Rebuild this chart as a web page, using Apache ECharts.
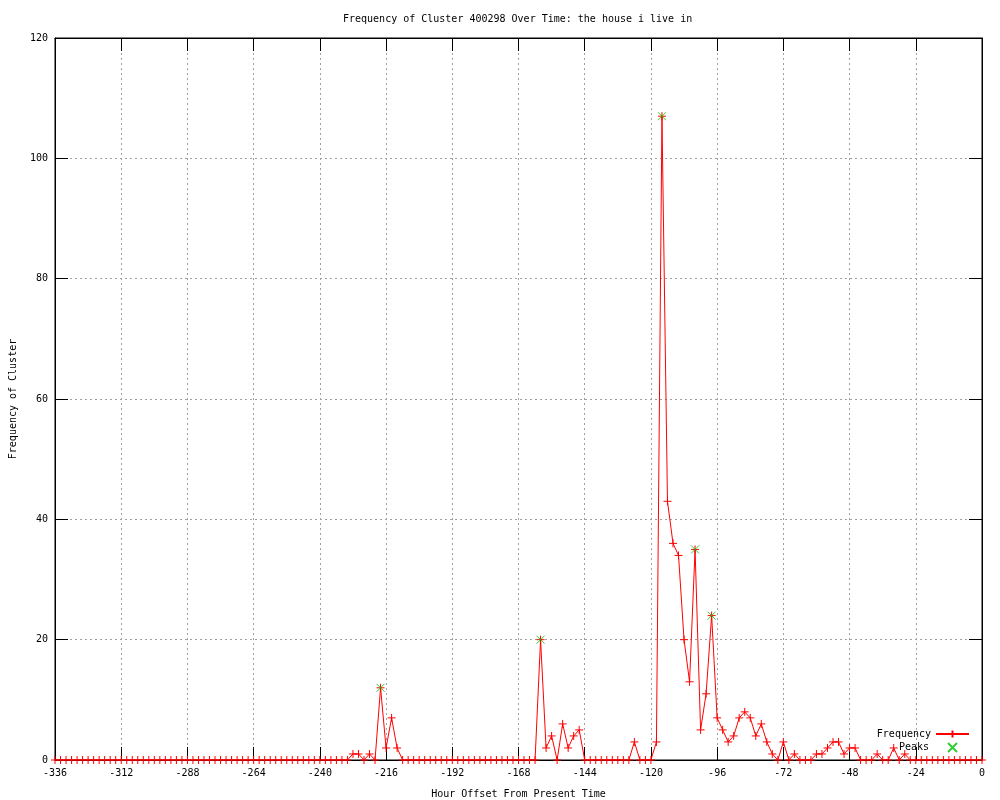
<!DOCTYPE html>
<html>
<head>
<meta charset="utf-8">
<title>Frequency of Cluster 400298</title>
<script src="https://cdn.jsdelivr.net/npm/echarts@6/dist/echarts.min.js"></script>
<style>
  html, body { margin: 0; padding: 0; background: #fff; }
  #chart { width: 1000px; height: 800px; }
</style>
</head>
<body>
<div id="chart"></div>
<script>
// one sample every 2 hours, from -336 up to 0
const startHour = -336
const stepHours = 2
const frequency = [
  0, 0, 0, 0, 0, 0, 0, 0, 0, 0, 0, 0,
  0, 0, 0, 0, 0, 0, 0, 0, 0, 0, 0, 0,
  0, 0, 0, 0, 0, 0, 0, 0, 0, 0, 0, 0,
  0, 0, 0, 0, 0, 0, 0, 0, 0, 0, 0, 0,
  0, 0, 0, 0, 0, 0, 1, 1, 0, 1, 0, 12,
  2, 7, 2, 0, 0, 0, 0, 0, 0, 0, 0, 0,
  0, 0, 0, 0, 0, 0, 0, 0, 0, 0, 0, 0,
  0, 0, 0, 0, 20, 2, 4, 0, 6, 2, 4, 5,
  0, 0, 0, 0, 0, 0, 0, 0, 0, 3, 0, 0,
  0, 3, 107, 43, 36, 34, 20, 13, 35, 5, 11, 24,
  7, 5, 3, 4, 7, 8, 7, 4, 6, 3, 1, 0,
  3, 0, 1, 0, 0, 0, 1, 1, 2, 3, 3, 1,
  2, 2, 0, 0, 0, 1, 0, 0, 2, 0, 1, 0,
  0, 0, 0, 0, 0, 0, 0, 0, 0, 0, 0, 0,
  0
]

const peakHours = [-218, -160, -116, -104, -98]
const peakValues = [12, 20, 107, 35, 24]

const xTickStep = 24
const yTickStep = 20

const font = 'DejaVu Sans Mono'
const plusIcon = 'path://M0,4.5L9,4.5M4.5,0L4.5,9'
const crossIcon = 'path://M0,0L9,9M9,0L0,9'

const freqPoints = frequency.map((v, i) => [startHour + i * stepHours, v])
const peakPoints = peakHours.map((h, i) => [h, peakValues[i]])

const chart = echarts.init(document.getElementById('chart'))

const gridLine = {
  show: true,
  lineStyle: { color: '#a0a0a0', type: [2, 3], width: 1 },
}

function axisBase(extra) {
  return Object.assign({
    type: 'value',
    axisLine: { show: true, onZero: false, lineStyle: { color: '#000', width: 1 } },
    axisTick: { show: true, inside: true, length: 13, lineStyle: { color: '#000' } },
    splitLine: { show: false },
  }, extra)
}

chart.setOption({
  animation: false,
  backgroundColor: '#fff',
  title: {
    text: 'Frequency of Cluster 400298 Over Time: the house i live in',
    left: 338,
    top: 9,
    textStyle: { fontFamily: font, fontSize: 10, fontWeight: 'normal', color: '#000' },
  },
  grid: {
    left: 55,
    right: 18,
    top: 38,
    bottom: 40,
    containLabel: false,
    outerBoundsMode: 'none',
    show: true,
    borderColor: '#000',
    borderWidth: 1,
  },
  legend: [
    {
      data: [{ name: 'Frequency' }],
      right: 30,
      top: 729,
      align: 'right',
      padding: 0,
      itemWidth: 33,
      itemHeight: 9,
      textStyle: { fontFamily: font, fontSize: 10, color: '#000' },
    },
    {
      data: [{ name: 'Peaks', icon: crossIcon }],
      right: 42,
      top: 742,
      align: 'right',
      padding: 0,
      itemWidth: 9,
      itemHeight: 9,
      textStyle: { fontFamily: font, fontSize: 10, color: '#000', padding: [0, 14, 0, 0] },
    },
  ],
  xAxis: [
    axisBase({
      position: 'bottom',
      min: startHour,
      max: 0,
      interval: xTickStep,
      name: 'Hour Offset From Present Time',
      nameLocation: 'middle',
      nameGap: 29,
      nameTextStyle: { fontFamily: font, fontSize: 10, color: '#000' },
      axisLabel: { fontFamily: font, fontSize: 10, color: '#000', margin: 8 },
      splitLine: gridLine,
    }),
    axisBase({
      position: 'top',
      min: startHour,
      max: 0,
      interval: xTickStep,
      axisLabel: { show: false },
    }),
  ],
  yAxis: [
    axisBase({
      position: 'left',
      min: 0,
      max: 120,
      interval: yTickStep,
      name: 'Frequency of Cluster',
      nameLocation: 'middle',
      nameGap: 37,
      nameTextStyle: { fontFamily: font, fontSize: 10, color: '#000' },
      axisLabel: { fontFamily: font, fontSize: 10, color: '#000', margin: 7 },
      splitLine: gridLine,
    }),
    axisBase({
      position: 'right',
      min: 0,
      max: 120,
      interval: yTickStep,
      axisLabel: { show: false },
    }),
  ],
  series: [
    {
      name: 'Frequency',
      type: 'line',
      data: freqPoints,
      showSymbol: true,
      showAllSymbol: true,
      symbol: plusIcon,
      symbolSize: 8,
      lineStyle: { color: '#ff0000', width: 1 },
      itemStyle: { color: '#ff0000', borderColor: '#ff0000', borderWidth: 1 },
      z: 3,
    },
    {
      name: 'Peaks',
      type: 'scatter',
      data: peakPoints,
      symbol: crossIcon,
      symbolSize: 8,
      itemStyle: { color: '#00c000', borderColor: '#00c000', borderWidth: 1 },
      z: 4,
    },
  ],
})
</script>
</body>
</html>
